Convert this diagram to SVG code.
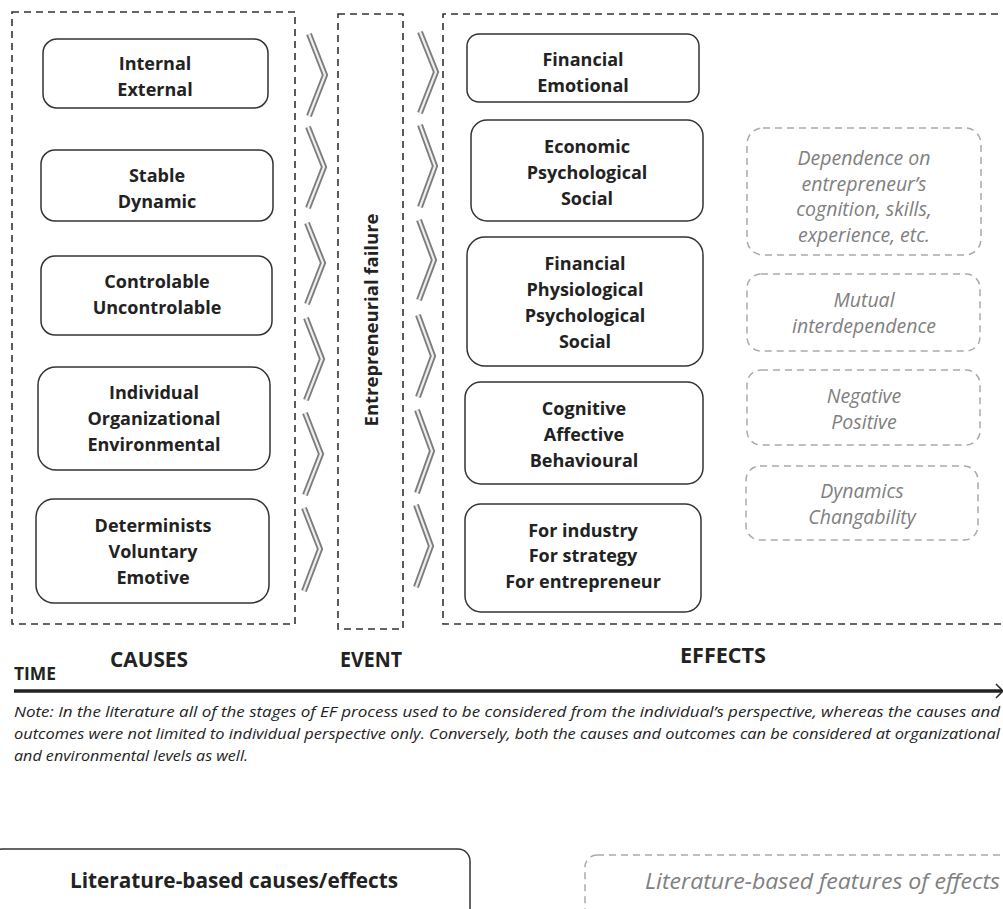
<svg xmlns="http://www.w3.org/2000/svg" width="1003" height="909" viewBox="0 0 1003 909">
<style>
.frame{fill:none;stroke:#333;stroke-width:1.6;stroke-dasharray:7 5}
.node{fill:#fff;stroke:#333;stroke-width:1.5}
.feat{fill:#fff;stroke:#aaa;stroke-width:1.5;stroke-dasharray:7 5}
.t{font-family:"Open Sans","Liberation Sans",sans-serif;font-weight:700;font-size:18px;fill:#222;text-anchor:middle;dominant-baseline:central}
.g{font-family:"Open Sans","Liberation Sans",sans-serif;font-style:italic;font-size:19.5px;fill:#808080;text-anchor:middle;dominant-baseline:central}
.h{font-family:"Open Sans","Liberation Sans",sans-serif;font-weight:700;font-size:21px;fill:#222}
.note{font-family:"Open Sans","Liberation Sans",sans-serif;font-style:italic;font-size:14.5px;fill:#222}
.chO{fill:none;stroke:#7d7d7d;stroke-width:6;stroke-linejoin:miter}
.chI{fill:none;stroke:#eeeeee;stroke-width:2.2;stroke-linejoin:miter}
</style>

<g id="frames">
<rect class="frame" x="12" y="12" width="283" height="612"/>
<rect class="frame" x="338" y="14" width="65" height="615"/>
<path class="frame" d="M1010,14 H443 V624 H1010"/>
</g>

<g id="connectors">
<g id="chevrons-left">
<polyline class="chO" points="309,34 325,75 309,116"/><polyline class="chI" points="309,34 325,75 309,116"/>
<polyline class="chO" points="308,127 324,167 308,208"/><polyline class="chI" points="308,127 324,167 308,208"/>
<polyline class="chO" points="307,223 323,263 307,304"/><polyline class="chI" points="307,223 323,263 307,304"/>
<polyline class="chO" points="306,318 322,359 306,400"/><polyline class="chI" points="306,318 322,359 306,400"/>
<polyline class="chO" points="305,413 321,454 305,495"/><polyline class="chI" points="305,413 321,454 305,495"/>
<polyline class="chO" points="304,508 320,549 304,591"/><polyline class="chI" points="304,508 320,549 304,591"/>
</g>
<g id="chevrons-right">
<polyline class="chO" points="420,32 436,72 420,113"/><polyline class="chI" points="420,32 436,72 420,113"/>
<polyline class="chO" points="420,125 435,166 420,207"/><polyline class="chI" points="420,125 435,166 420,207"/>
<polyline class="chO" points="419,220 434,260 419,300"/><polyline class="chI" points="419,220 434,260 419,300"/>
<polyline class="chO" points="418,315 433,356 418,397"/><polyline class="chI" points="418,315 433,356 418,397"/>
<polyline class="chO" points="417,410 432,451 417,493"/><polyline class="chI" points="417,410 432,451 417,493"/>
<polyline class="chO" points="416,505 431,546 416,587"/><polyline class="chI" points="416,505 431,546 416,587"/>
</g>
<g id="timeline">
<line x1="14" y1="691" x2="1002" y2="691" stroke="#222" stroke-width="3.5"/>
<polyline points="996,684 1003,691 996,698" fill="none" stroke="#222" stroke-width="1.5"/>
</g>
</g>

<g id="cause1"><rect class="node" x="43" y="39" width="225" height="69" rx="14"/>
<text class="t" x="155" y="63">Internal</text><text class="t" x="155" y="89">External</text></g>
<g id="cause2"><rect class="node" x="41" y="150" width="232" height="71" rx="14"/>
<text class="t" x="157" y="175">Stable</text><text class="t" x="157" y="201">Dynamic</text></g>
<g id="cause3"><rect class="node" x="41" y="256" width="231" height="79" rx="14"/>
<text class="t" x="157" y="281">Controlable</text><text class="t" x="157" y="307">Uncontrolable</text></g>
<g id="cause4"><rect class="node" x="38" y="367" width="232" height="103" rx="18"/>
<text class="t" x="154" y="392">Individual</text><text class="t" x="154" y="418">Organizational</text><text class="t" x="154" y="444">Environmental</text></g>
<g id="cause5"><rect class="node" x="36" y="499" width="233" height="104" rx="18"/>
<text class="t" x="153" y="525">Determinists</text><text class="t" x="153" y="551">Voluntary</text><text class="t" x="153" y="577">Emotive</text></g>

<g id="event">
<text class="t" transform="translate(370,320) rotate(-90)" x="0" y="0" style="font-size:18.5px">Entrepreneurial failure</text>
</g>

<g id="effect1"><rect class="node" x="467" y="34" width="232" height="68" rx="12"/>
<text class="t" x="583" y="59">Financial</text><text class="t" x="583" y="85">Emotional</text></g>
<g id="effect2"><rect class="node" x="471" y="120" width="232" height="101" rx="16"/>
<text class="t" x="587" y="146">Economic</text><text class="t" x="587" y="172">Psychological</text><text class="t" x="587" y="198">Social</text></g>
<g id="effect3"><rect class="node" x="467" y="237" width="236" height="129" rx="18"/>
<text class="t" x="585" y="263">Financial</text><text class="t" x="585" y="289">Physiological</text><text class="t" x="585" y="315">Psychological</text><text class="t" x="585" y="341">Social</text></g>
<g id="effect4"><rect class="node" x="465" y="382" width="238" height="102" rx="16"/>
<text class="t" x="584" y="408">Cognitive</text><text class="t" x="584" y="434">Affective</text><text class="t" x="584" y="460">Behavioural</text></g>
<g id="effect5"><rect class="node" x="465" y="504" width="236" height="108" rx="16"/>
<text class="t" x="583" y="530">For industry</text><text class="t" x="583" y="555">For strategy</text><text class="t" x="583" y="581">For entrepreneur</text></g>

<g id="feature1"><rect class="feat" x="747" y="128" width="234" height="127" rx="16"/>
<text class="g" x="864" y="157">Dependence on</text><text class="g" x="864" y="183">entrepreneur’s</text><text class="g" x="864" y="208">cognition, skills,</text><text class="g" x="864" y="234">experience, etc.</text></g>
<g id="feature2"><rect class="feat" x="747" y="274" width="233" height="77" rx="14"/>
<text class="g" x="864" y="299">Mutual</text><text class="g" x="864" y="325">interdependence</text></g>
<g id="feature3"><rect class="feat" x="747" y="370" width="233" height="75" rx="14"/>
<text class="g" x="864" y="395">Negative</text><text class="g" x="864" y="421">Positive</text></g>
<g id="feature4"><rect class="feat" x="746" y="466" width="232" height="74" rx="14"/>
<text class="g" x="862" y="490">Dynamics</text><text class="g" x="862" y="516">Changability</text></g>

<g id="labels">
<text class="h" x="14" y="680" style="font-size:17px" textLength="42" lengthAdjust="spacingAndGlyphs">TIME</text>
<text class="h" x="110" y="667" textLength="78" lengthAdjust="spacingAndGlyphs">CAUSES</text>
<text class="h" x="340" y="667" textLength="62" lengthAdjust="spacingAndGlyphs">EVENT</text>
<text class="h" x="680" y="663" textLength="86" lengthAdjust="spacingAndGlyphs">EFFECTS</text>
</g>

<g id="note">
<text class="note" x="14" y="717" textLength="986" lengthAdjust="spacingAndGlyphs">Note: In the literature all of the stages of EF process used to be considered from the individual’s perspective, whereas the causes and</text>
<text class="note" x="14" y="739" textLength="986" lengthAdjust="spacingAndGlyphs">outcomes were not limited to individual perspective only. Conversely, both the causes and outcomes can be considered at organizational</text>
<text class="note" x="14" y="761" textLength="234" lengthAdjust="spacingAndGlyphs">and environmental levels as well.</text>
</g>

<g id="legend-causes"><rect class="node" x="-10" y="849" width="480" height="80" rx="12"/>
<text class="t" x="234" y="880" style="font-size:20.5px" textLength="328" lengthAdjust="spacingAndGlyphs">Literature-based causes/effects</text></g>
<g id="legend-features"><rect class="feat" x="585" y="855" width="430" height="70" rx="12"/>
<text class="g" x="645" y="881" style="text-anchor:start;font-size:21px" textLength="355" lengthAdjust="spacingAndGlyphs">Literature-based features of effects</text></g>
</svg>
